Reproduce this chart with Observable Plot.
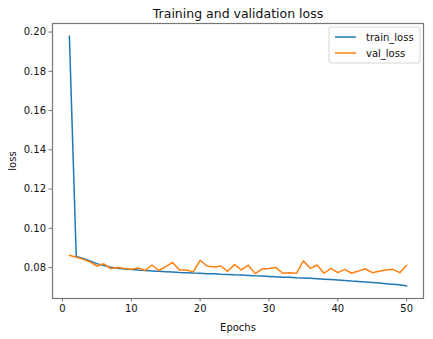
<!DOCTYPE html>
<html>
<head>
<meta charset="utf-8">
<script src="https://cdn.jsdelivr.net/npm/d3@7"></script>
<script src="https://cdn.jsdelivr.net/npm/@observablehq/plot@0.6"></script>
<style>
  html, body { margin: 0; padding: 0; background: #fff; }
  svg { display: block; }
</style>
</head>
<body>
<div id="chart"></div>
<script>
const epochs = d3.range(1, 51);
const trainLoss = [
  0.1980, 0.0856, 0.0846, 0.0834, 0.0820, 0.0810, 0.0802, 0.0797, 0.0793, 0.0790,
  0.0787, 0.0785, 0.0783, 0.0781, 0.0779, 0.0777, 0.0775, 0.0774, 0.0772, 0.0771,
  0.0769, 0.0768, 0.0766, 0.0765, 0.0763, 0.0762, 0.0760, 0.0758, 0.0757, 0.0755,
  0.0753, 0.0751, 0.0750, 0.0748, 0.0747, 0.0745, 0.0743, 0.0741, 0.0739, 0.0737,
  0.0734, 0.0731, 0.0729, 0.0727, 0.0724, 0.0721, 0.0718, 0.0715, 0.0712, 0.0706
];
const valLoss = [
  0.0863, 0.0853, 0.0842, 0.0829, 0.0808, 0.0819, 0.0795, 0.0800, 0.0795, 0.0791,
  0.0798, 0.0785, 0.0813, 0.0785, 0.0805, 0.0826, 0.0788, 0.0788, 0.0778, 0.0837,
  0.0808, 0.0803, 0.0808, 0.0781, 0.0815, 0.0788, 0.0812, 0.0769, 0.0793, 0.0795,
  0.0800, 0.0771, 0.0774, 0.0771, 0.0834, 0.0796, 0.0813, 0.0771, 0.0796, 0.0774,
  0.0791, 0.0771, 0.0782, 0.0794, 0.0774, 0.0781, 0.0788, 0.0791, 0.0774, 0.0812
];
const seriesNames = ["train_loss", "val_loss"];
const seriesColors = ["#1f77b4", "#ff7f0e"];
const yTicks = [0.08, 0.10, 0.12, 0.14, 0.16, 0.18, 0.20];
const xTicks = [0, 10, 20, 30, 40, 50];
const titleText = "Training and validation loss";

const rows = [];
epochs.forEach((e, i) => {
  rows.push({epoch: e, loss: trainLoss[i], series: seriesNames[0]});
  rows.push({epoch: e, loss: valLoss[i], series: seriesNames[1]});
});

function pad(ext) { const r = ext[1] - ext[0]; return [ext[0] - 0.05 * r, ext[1] + 0.05 * r]; }
const xDom = pad(d3.extent(epochs));
const yDom = pad(d3.extent(rows, d => d.loss));

const font = "DejaVu Sans, sans-serif";
const frameColor = "#777";

const chart = Plot.plot({
  width: 433,
  height: 339,
  marginLeft: 52,
  marginRight: 10,
  marginTop: 23,
  marginBottom: 41,
  style: {fontFamily: font, fontSize: "10px", color: "#111", background: "#fff"},
  x: {domain: xDom, ticks: xTicks},
  y: {domain: yDom, ticks: yTicks},
  color: {domain: seriesNames, range: seriesColors},
  marks: [
    Plot.axisX({ticks: xTicks, tickSize: 3.5, tickPadding: 3, stroke: frameColor, fontSize: 10,
      label: "Epochs", labelAnchor: "center", labelArrow: "none", labelOffset: 32}),
    Plot.axisY({ticks: yTicks, tickSize: 3.5, tickPadding: 3, stroke: frameColor, fontSize: 10,
      tickFormat: d3.format(".2f"),
      label: "loss", labelAnchor: "center", labelArrow: "none", labelOffset: 44}),
    Plot.line(rows, {x: "epoch", y: "loss", z: "series", stroke: "series", strokeWidth: 1.5}),
    Plot.frame({stroke: frameColor, strokeWidth: 1.2}),
    Plot.text([titleText], {frameAnchor: "top", dy: -14, text: d => d, fontSize: 12.5, fill: "#111"})
  ]
});

// legend box (upper right, matplotlib style)
const svg = d3.select(chart);
const lg = svg.append("g").attr("transform", "translate(329,27)").attr("text-anchor", "start");
lg.append("rect").attr("x", 0).attr("y", 0).attr("width", 91).attr("height", 36)
  .attr("rx", 2).attr("fill", "#fff").attr("fill-opacity", 0.8).attr("stroke", "#d5d5d5");
seriesNames.forEach((name, i) => {
  const yy = 10 + i * 16;
  lg.append("line").attr("x1", 6).attr("x2", 27).attr("y1", yy).attr("y2", yy)
    .attr("stroke", seriesColors[i]).attr("stroke-width", 1.5);
  lg.append("text").attr("x", 37).attr("y", yy).attr("dy", "0.35em")
    .attr("text-anchor", "start")
    .attr("font-family", font).attr("font-size", 10).attr("fill", "#111").text(name);
});

document.getElementById("chart").appendChild(chart);
</script>
</body>
</html>
